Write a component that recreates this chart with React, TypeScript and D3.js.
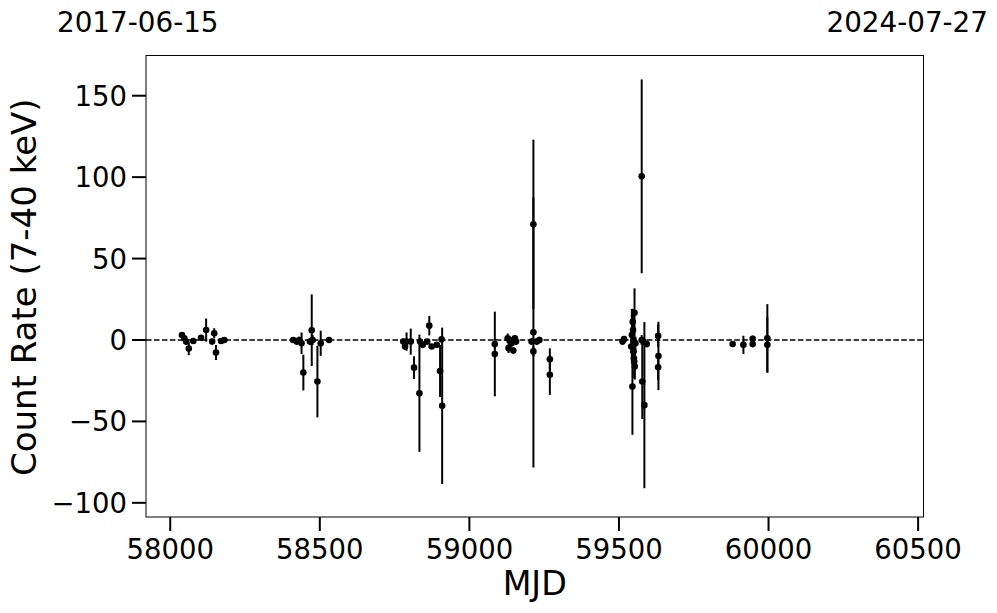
import React, { useEffect, useRef } from "react";
import * as d3 from "d3";

// Observation MJD, count rate and 1-sigma error (7-40 keV)
const mjd: number[] = [
  58039, 58047, 58053, 58062, 58077, 58103, 58120, 58140, 58147, 58153, 58170, 58181,
  58411, 58423, 58431, 58439, 58445, 58467, 58473, 58476, 58492, 58503, 58531,
  58779, 58785, 58790, 58804, 58815, 58833, 58835, 58844, 58859, 58866, 58874, 58891, 58902, 58907, 58909,
  59085, 59085, 59128, 59131, 59136, 59141, 59147, 59152, 59156, 59208, 59214, 59214, 59214, 59225, 59234, 59269, 59269,
  59512, 59517, 59541, 59543, 59545, 59546, 59547, 59548, 59549, 59550, 59551, 59552, 59553, 59555,
  59576, 59576, 59578, 59582, 59585, 59593, 59631, 59632, 59631,
  59880, 59916, 59947, 59947,
  59996, 59996,
];
const rate: number[] = [
  3, 1, -1, -5.3, -0.6, 1.4, 6.1, -1, 4.1, -7.7, -0.6, 0,
  0, -1, 0, -2, -20, -1, 6, 0, -25.5, -2, 0,
  -1, -4, -1, -1, -17, -32.7, -1, -3, -1, 8.8, -4, -3, -19, 0.4, -40.4,
  -2.5, -8.6, 1, -5, 0, -2, -6.5, 1, -1, -1, 4.7, 71, -7, -1, 0, -11.8, -21.4,
  -1, 0.5, -4, 3, -28.6, 11.2, 6.1, 0, -7.1, -11.2, -13.3, 16.7, -16.3, -2,
  100.5, 0, -25.5, -1, -40, -2.5, 2.5, -9.8, -16.7,
  -2.5, -3, 0.7, -2.5,
  1, -3,
];
const rateErr: number[] = [
  1.5, 2, 2, 4, 1.5, 1.5, 7.1, 1.5, 3.1, 4.6, 1, 1,
  1.5, 2, 2, 6.6, 11, 2, 22, 3, 22, 7.7, 1.5,
  2, 2, 5.6, 8, 7, 36, 2, 2, 1.5, 6, 1.5, 1.5, 16, 2, 48,
  3, 26, 3, 3, 2, 2, 2, 2, 2, 2, 83, 52, 3, 2, 2, 6.7, 12.3,
  2, 2, 4, 16, 29.6, 8, 10, 4, 8, 6, 10, 15, 8, 4,
  59.5, 3, 23, 2, 51, 2, 7, 21, 8,
  1.5, 5.6, 2, 2,
  21, 17,
];

const xTicks: number[] = [58000, 58500, 59000, 59500, 60000, 60500];
const yTicks: number[] = [150, 100, 50, 0, -50, -100];
const startDate = "2017-06-15";
const endDate = "2024-07-27";
const xLabel = "MJD";
const yLabel = "Count Rate (7-40 keV)";

const W = 997;
const H = 613;
const FONT = "DejaVu Sans, sans-serif";

export default function App() {
  const ref = useRef<SVGSVGElement | null>(null);

  useEffect(() => {
    const svg = d3.select(ref.current);
    svg.selectAll("*").remove();

    const left = 146, right = 923.5, top = 55.5, bottom = 517;
    const x = d3.scaleLinear().domain([57919, 60518]).range([left, right]);
    const y = d3.scaleLinear().domain([-108.7, 174.7]).range([bottom, top]);

    svg.append("rect").attr("width", W).attr("height", H).attr("fill", "#fff");

    // zero line
    svg.append("line")
      .attr("x1", left).attr("x2", right)
      .attr("y1", y(0)).attr("y2", y(0))
      .attr("stroke", "#000").attr("stroke-width", 1.5)
      .attr("stroke-dasharray", "5.55,2.4");

    const data = mjd.map((m, i) => ({ m, r: rate[i], e: rateErr[i] }));

    const g = svg.append("g");
    g.selectAll("line.err").data(data).enter().append("line")
      .attr("class", "err")
      .attr("x1", (d) => x(d.m)).attr("x2", (d) => x(d.m))
      .attr("y1", (d) => y(d.r + d.e)).attr("y2", (d) => y(d.r - d.e))
      .attr("stroke", "#000").attr("stroke-width", 2);
    g.selectAll("circle").data(data).enter().append("circle")
      .attr("cx", (d) => x(d.m)).attr("cy", (d) => y(d.r))
      .attr("r", 3.3).attr("fill", "#000");

    // frame
    svg.append("rect")
      .attr("x", left).attr("y", top)
      .attr("width", right - left).attr("height", bottom - top)
      .attr("fill", "none").attr("stroke", "#000").attr("stroke-width", 1);

    // x ticks
    const xt = svg.append("g");
    xTicks.forEach((t) => {
      xt.append("line").attr("x1", x(t)).attr("x2", x(t))
        .attr("y1", bottom).attr("y2", bottom + 14)
        .attr("stroke", "#000").attr("stroke-width", 2);
      xt.append("text").attr("x", x(t)).attr("y", 559)
        .attr("text-anchor", "middle").attr("font-family", FONT)
        .attr("font-size", 27.5).attr("fill", "#000").text(String(t));
    });

    // y ticks
    const yt = svg.append("g");
    yTicks.forEach((t) => {
      yt.append("line").attr("x1", left - 14).attr("x2", left)
        .attr("y1", y(t)).attr("y2", y(t))
        .attr("stroke", "#000").attr("stroke-width", 2);
      yt.append("text").attr("x", 127).attr("y", y(t) + 27.5 * 0.365)
        .attr("text-anchor", "end").attr("font-family", FONT)
        .attr("font-size", 27.5).attr("fill", "#000")
        .text(t < 0 ? "\u2212" + Math.abs(t) : String(t));
    });

    svg.append("text").attr("x", (left + right) / 2).attr("y", 595)
      .attr("text-anchor", "middle").attr("font-family", FONT)
      .attr("font-size", 33.3).attr("fill", "#000").text(xLabel);

    svg.append("text")
      .attr("transform", `translate(36,${(top + bottom) / 2 + 1}) rotate(-90)`)
      .attr("text-anchor", "middle").attr("font-family", FONT)
      .attr("font-size", 34).attr("fill", "#000").text(yLabel);

    svg.append("text").attr("x", 57).attr("y", 32)
      .attr("font-family", FONT).attr("font-size", 27.8).attr("fill", "#000")
      .text(startDate);
    svg.append("text").attr("x", 988).attr("y", 32).attr("text-anchor", "end")
      .attr("font-family", FONT).attr("font-size", 27.8).attr("fill", "#000")
      .text(endDate);
  }, []);

  return (
    <svg
      ref={ref}
      width={W}
      height={H}
      style={{ position: "absolute", left: 0, top: 0, display: "block" }}
    />
  );
}
